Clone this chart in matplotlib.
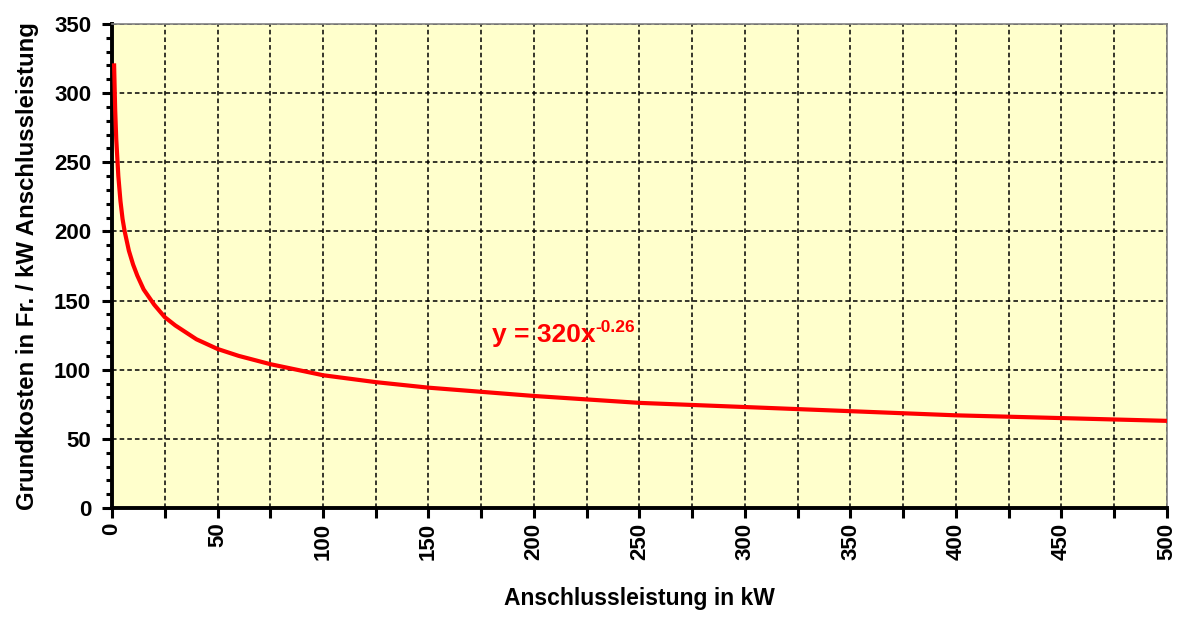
import numpy as np
import matplotlib.pyplot as plt
from matplotlib.ticker import MultipleLocator

plt.rcParams['font.family'] = ['Liberation Sans', 'DejaVu Sans']
plt.rcParams['font.weight'] = 'bold'

# Werte
leistung_kw = [1, 1.5, 2, 3, 4, 5, 6, 8, 10, 12, 15, 20, 25, 30, 40, 50, 60, 75,
               100, 125, 150, 200, 250, 300, 350, 400, 450, 500]
grundkosten = [320, 288, 267, 240, 222, 209, 200, 186, 176, 168, 158, 147, 138, 132,
               122, 115, 110, 104, 96, 91, 87, 81, 76, 73, 70, 67, 65, 63]

fig = plt.figure(figsize=(11.84, 6.23), dpi=100)
ax = fig.add_axes([0.0946, 0.1846, 0.891, 0.777])
ax.set_facecolor('#FFFFCC')

ax.plot(leistung_kw, grundkosten, color='#FF0000', lw=3, zorder=3)

ax.set_xlim(0, 500)
ax.set_ylim(0, 350)
ax.xaxis.set_major_locator(MultipleLocator(50))
ax.xaxis.set_minor_locator(MultipleLocator(25))
ax.yaxis.set_major_locator(MultipleLocator(50))
ax.yaxis.set_minor_locator(MultipleLocator(10))

ax.grid(which='major', axis='y', color='black', ls=(0, (3, 2)), lw=1.1)
ax.grid(which='both', axis='x', color='black', ls=(0, (3, 2)), lw=1.1)
ax.set_axisbelow(True)

for s in ['left', 'bottom']:
    ax.spines[s].set_linewidth(2.8)
    ax.spines[s].set_color('black')
for s in ['top', 'right']:
    ax.spines[s].set_linewidth(1.2)
    ax.spines[s].set_color('#808080')

ax.tick_params(which='major', length=7, width=2.2, labelsize=16)
ax.tick_params(which='minor', length=4.5, width=2.2)
ax.tick_params(axis='x', which='minor', length=7)
ax.tick_params(axis='y', which='major', pad=8)
plt.setp(ax.get_xticklabels(), rotation=90, fontweight='bold')
plt.setp(ax.get_yticklabels(), fontweight='bold')

ax.set_xlabel('Anschlussleistung in kW', fontsize=16.5, fontweight='bold', labelpad=20)
ax.set_ylabel('Grundkosten in Fr. / kW Anschlussleistung', fontsize=17.3,
              fontweight='bold', labelpad=11)

eq = ax.text(180, 125, 'y = 320x', color='#FF0000', fontsize=19,
             fontweight='bold', va='center', ha='left')
ax.annotate('-0.26', xy=(1.0, 0.5), xycoords=eq, color='#FF0000', fontsize=12.5,
            fontweight='bold', va='bottom', ha='left')

fig.savefig('out.png', dpi=100)
